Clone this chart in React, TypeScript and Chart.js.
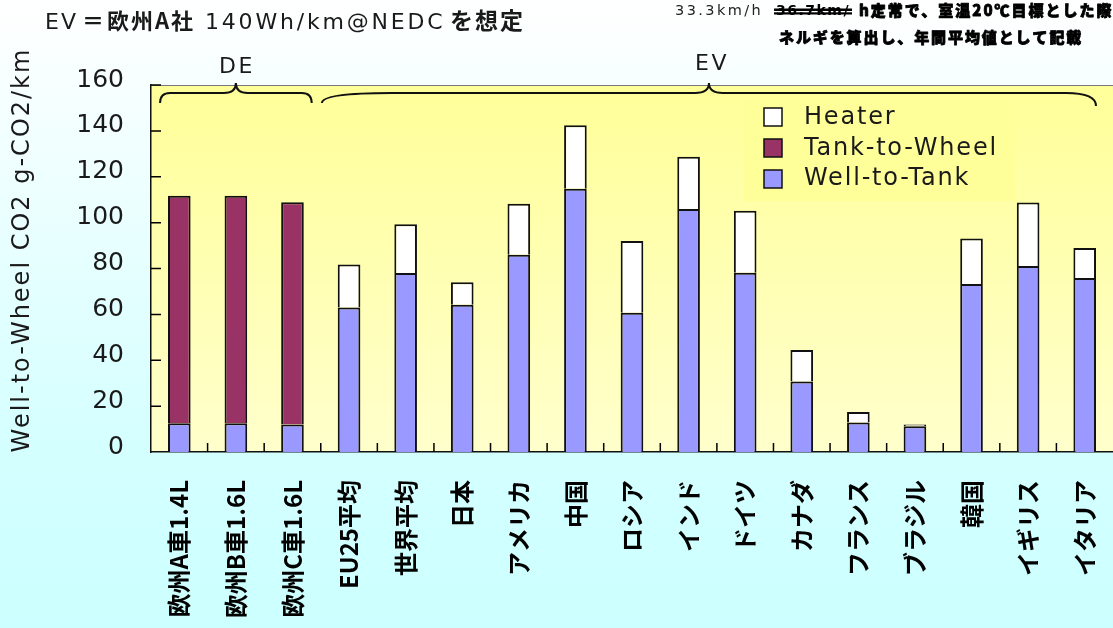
import React, { useEffect, useRef } from 'react';
import { Chart, registerables } from 'chart.js';

Chart.register(...registerables);

// ---- data ----
const categories = [
  '欧州A車1.4L', '欧州B車1.6L', '欧州C車1.6L', 'EU25平均', '世界平均', '日本', 'アメリカ', '中国',
  'ロシア', 'インド', 'ドイツ', 'カナダ', 'フランス', 'ブラジル', '韓国', 'イギリス', 'イタリア',
];
const wellToTank = [12.5, 12.5, 12, 63, 78, 64.2, 86, 114.8, 60.7, 105.9, 78.2, 30.7, 12.9, 11.2, 73.2, 81.1, 75.9];
const tankToWheel = [99.2, 99.2, 96.9, null, null, null, null, null, null, null, null, null, null, null, null, null, null];
const heater = [null, null, null, 18.7, 21.3, 9.8, 22.2, 27.7, 31.3, 22.8, 27, 13.8, 4.5, 0.8, 19.9, 27.7, 13];
const seriesNames = ['Well-to-Tank', 'Tank-to-Wheel', 'Heater'];
const seriesColors = ['#9999ff', '#993366', '#ffffff'];
const yTickValues = [0, 20, 40, 60, 80, 100, 120, 140, 160];
const yAxisTitle = 'Well-to-Wheel CO2 g-CO2/km';
const groupLabels = ['DE', 'EV'];
const titleParts = ['EV', '＝', '欧州A社', '140Wh/km@NEDC', 'を想定'];
const noteLine1 = ['33.3km/h', '36.7km/', 'h定常で、室温20℃目標とした際'];
const noteLine2 = 'ネルギを算出し、年間平均値として記載';

const LATIN = '"DejaVu Sans", sans-serif';
const CJK = '"Noto Sans CJK JP", sans-serif';

function brace(ctx: CanvasRenderingContext2D, x1: number, x2: number, xm: number, yLine: number, yEnd1: number, yEnd2: number, yCusp: number, rL: number, rR: number, rc: number) {
  ctx.beginPath();
  ctx.moveTo(x1, yEnd1);
  ctx.quadraticCurveTo(x1, yLine, x1 + rL, yLine);
  ctx.lineTo(xm - rc, yLine);
  ctx.quadraticCurveTo(xm, yLine, xm, yCusp);
  ctx.moveTo(xm, yCusp);
  ctx.quadraticCurveTo(xm, yLine, xm + rc, yLine);
  ctx.lineTo(x2 - rR, yLine);
  ctx.quadraticCurveTo(x2, yLine, x2, yEnd2);
  ctx.stroke();
}

function txt(ctx: any, s: string, x: number, y: number, font: string, spacing: number, align: CanvasTextAlign = 'left', color = '#1a1a1a', stroke = 0) {
  ctx.save();
  ctx.font = font;
  ctx.letterSpacing = spacing + 'px';
  ctx.textAlign = align;
  ctx.textBaseline = 'alphabetic';
  ctx.fillStyle = color;
  ctx.fillText(s, x, y);
  if (stroke > 0) {
    ctx.strokeStyle = color;
    ctx.lineWidth = stroke;
    ctx.lineJoin = 'round';
    ctx.strokeText(s, x, y);
  }
  ctx.restore();
}

const decor = {
  id: 'decor',
  beforeDraw(chart: any) {
    const { ctx, chartArea: a } = chart;
    ctx.save();
    const g = ctx.createLinearGradient(0, a.top, 0, a.bottom);
    g.addColorStop(0, '#ffff99');
    g.addColorStop(1, '#ffffcc');
    ctx.fillStyle = g;
    ctx.fillRect(a.left, a.top, a.right - a.left, a.bottom - a.top);
    // legend box background
    ctx.fillStyle = '#ffff99';
    ctx.fillRect(744, 99, 271, 102);
    ctx.restore();
  },
  afterDraw(chart: any) {
    const { ctx, chartArea: a } = chart;
    const xs = chart.scales.x;
    const ys = chart.scales.y;
    ctx.save();
    // top border
    ctx.strokeStyle = '#777';
    ctx.lineWidth = 1;
    ctx.beginPath();
    ctx.moveTo(a.left, a.top + 0.5);
    ctx.lineTo(a.right, a.top + 0.5);
    ctx.stroke();
    // inner tick marks
    ctx.strokeStyle = '#000';
    ctx.lineWidth = 1.5;
    ctx.beginPath();
    yTickValues.forEach((v) => {
      if (v === 0) return;
      const y = ys.getPixelForValue(v);
      ctx.moveTo(a.left, y);
      ctx.lineTo(a.left + 10, y);
    });
    for (let i = 0; i < categories.length - 1; i++) {
      const x = (xs.getPixelForValue(i) + xs.getPixelForValue(i + 1)) / 2;
      ctx.moveTo(x, a.bottom);
      ctx.lineTo(x, a.bottom - 9);
    }
    ctx.stroke();

    // braces
    ctx.strokeStyle = '#111';
    ctx.lineWidth = 2;
    const step = xs.getPixelForValue(1) - xs.getPixelForValue(0);
    const deL = xs.getPixelForValue(0) - 0.34 * step;
    const deR = xs.getPixelForValue(2) + 0.34 * step;
    const deM = xs.getPixelForValue(1);
    brace(ctx, deL, deR, deM, 93, 103, 103, 83, 10, 10, 12);
    const evL = xs.getPixelForValue(3) - 0.48 * step;
    const evR = xs.getPixelForValue(16) + 0.2 * step;
    const evM = (evL + evR) / 2;
    brace(ctx, evL, evR, evM, 93, 103, 106, 83, 70, 30, 14);
    txt(ctx, groupLabels[0], deM + 1, 73, `22px ${LATIN}`, 2.5, 'center', '#1a1a1a');
    txt(ctx, groupLabels[1], evM + 3, 70, `22px ${LATIN}`, 2.5, 'center', '#1a1a1a');

    // legend (reverse stack order)
    const order = [2, 1, 0];
    order.forEach((di, k) => {
      const sy = 108 + k * 31;
      ctx.fillStyle = seriesColors[di];
      ctx.fillRect(764, sy, 18, 18);
      ctx.strokeStyle = '#111';
      ctx.lineWidth = 1.5;
      ctx.strokeRect(764, sy, 18, 18);
      txt(ctx, seriesNames[di], 804, 124 + k * 30.5, `24px ${LATIN}`, 1.8, 'left', '#1a1a1a');
    });

    // y axis title
    ctx.save();
    ctx.translate(23, 250);
    ctx.rotate(-Math.PI / 2);
    (ctx as any).letterSpacing = '2px';
    ctx.font = `24px ${LATIN}`;
    ctx.textAlign = 'center';
    ctx.textBaseline = 'middle';
    ctx.fillStyle = '#1a1a1a';
    ctx.fillText(yAxisTitle, 0, 0);
    ctx.restore();

    // title
    txt(ctx, titleParts[0], 45, 29, `22px ${LATIN}`, 2, 'left');
    txt(ctx, titleParts[1], 82, 29, `bold 22px ${CJK}`, 0, 'left');
    txt(ctx, titleParts[2], 107, 29, `bold 22px ${CJK}`, 2, 'left');
    txt(ctx, titleParts[3], 205, 29, `22px ${LATIN}`, 2.8, 'left');
    txt(ctx, titleParts[4], 450, 29, `bold 23px ${CJK}`, 2, 'left');

    // note top-right
    txt(ctx, noteLine1[0], 675, 15, `14.5px ${LATIN}`, 2.4, 'left', '#222');
    txt(ctx, noteLine1[1], 776, 15, `bold 14px ${LATIN}`, 1.5, 'left', '#000');
    ctx.fillStyle = '#000';
    ctx.fillRect(774, 8.5, 78, 2.5);
    ctx.fillRect(774, 12.3, 78, 2.2);
    txt(ctx, noteLine1[2], 859, 16, `900 15px ${CJK}`, 2, 'left', '#000', 0.8);
    txt(ctx, noteLine2, 779, 43, `900 15px ${CJK}`, 1.9, 'left', '#000', 0.8);
    ctx.restore();
  },
};

export default function App() {
  const ref = useRef<HTMLCanvasElement>(null);
  useEffect(() => {
    const canvas = ref.current!;
    const mk = (i: number, data: any[]) => ({
      label: seriesNames[i],
      data,
      backgroundColor: seriesColors[i],
      borderColor: '#111',
      borderWidth: 2,
      barPercentage: 1,
      categoryPercentage: 0.4,
    });
    const chart = new Chart(canvas, {
      type: 'bar',
      data: {
        labels: categories,
        datasets: [mk(0, wellToTank), mk(1, tankToWheel), mk(2, heater)],
      },
      options: {
        animation: false,
        responsive: false,
        maintainAspectRatio: false,
        devicePixelRatio: 1,
        layout: { padding: { left: 0, right: 0, top: 85, bottom: 0 } },
        plugins: { legend: { display: false }, tooltip: { enabled: false }, title: { display: false } },
        scales: {
          x: {
            stacked: true,
            grid: { display: false, drawTicks: false },
            border: { display: true, color: '#111', width: 1.5 },
            ticks: {
              autoSkip: false,
              minRotation: 90,
              maxRotation: 90,
              padding: 28,
              color: '#000',
              font: { family: CJK, size: 24, weight: 'bold' },
            },
            afterFit: (s: any) => {
              s.height = 176;
              s.paddingLeft = 0;
              s.paddingRight = 0;
            },
          },
          y: {
            stacked: true,
            min: 0,
            max: 160,
            grid: { display: false, drawTicks: false },
            border: { display: true, color: '#111', width: 1.5 },
            afterBuildTicks: (s: any) => {
              s.ticks = yTickValues.map((v) => ({ value: v }));
            },
            ticks: {
              padding: 27,
              labelOffset: -5,
              color: '#1a1a1a',
              font: { family: LATIN, size: 25 },
            },
            afterFit: (s: any) => {
              s.width = 151;
              s.paddingTop = 0;
              s.paddingBottom = 0;
            },
          },
        },
      } as any,
      plugins: [decor],
    });
    return () => chart.destroy();
  }, []);

  return (
    <div
      style={{
        position: 'fixed',
        left: 0,
        top: 0,
        width: 1113,
        height: 628,
        overflow: 'hidden',
        background: 'linear-gradient(180deg, #ffffff 0%, #d4ffff 72%, #ccffff 100%)',
      }}
    >
      <canvas ref={ref} width={1113} height={628} style={{ display: 'block', width: 1113, height: 628 }} />
    </div>
  );
}
